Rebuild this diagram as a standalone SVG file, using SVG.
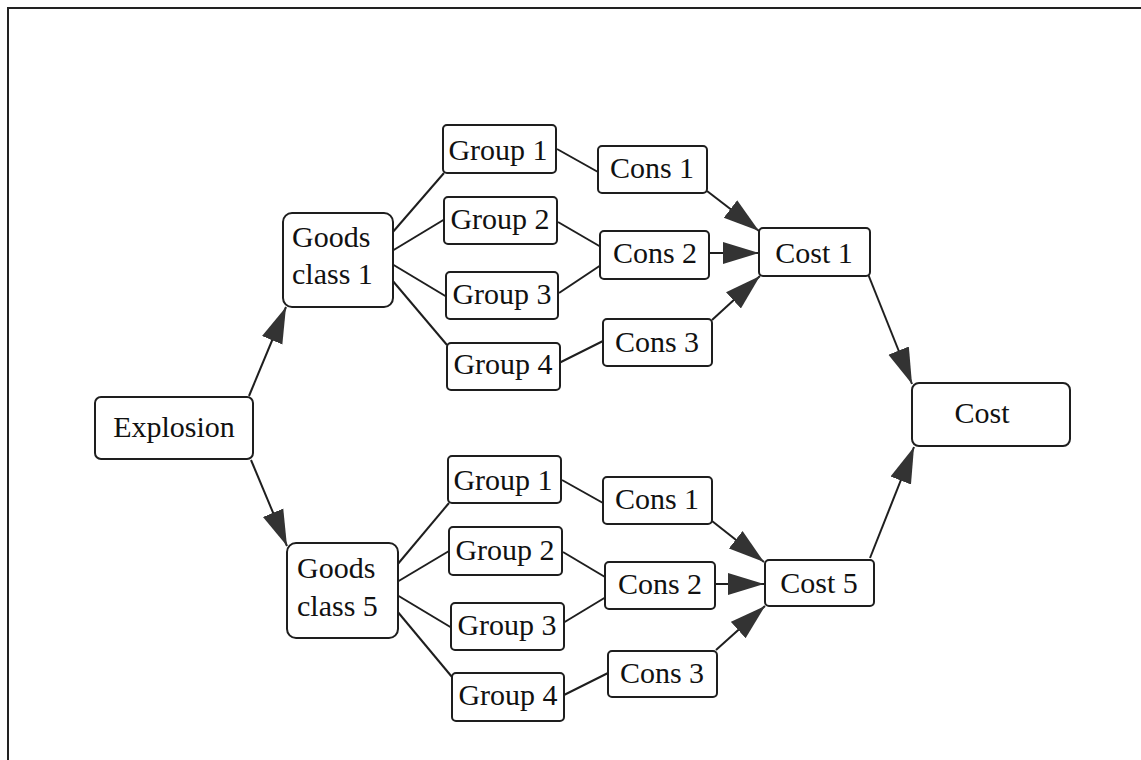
<svg xmlns="http://www.w3.org/2000/svg" width="1141" height="760" viewBox="0 0 1141 760">
<style>
.n rect{fill:#fff;stroke:#1e1e1e;stroke-width:2}
.n text{font-family:'Liberation Serif',serif;font-size:30px;fill:#111}
.c{text-anchor:middle}
#edges line{stroke:#1e1e1e;stroke-width:2}
#edges line.a{marker-end:url(#ah)}
</style>
<defs>
<marker id="ah" markerUnits="userSpaceOnUse" markerWidth="38" markerHeight="24" refX="36" refY="11" orient="auto" viewBox="0 0 38 22">
<path d="M0,0 L36,11 L0,22 Z" fill="#333"/>
</marker>
</defs>
<rect width="1141" height="760" fill="#fff"/>
<path d="M8,760 V8 H1141" fill="none" stroke="#222" stroke-width="2"/>
<g id="edges">
<line class="a" x1="249" y1="396" x2="286" y2="307"/>
<line class="a" x1="251" y1="460" x2="287" y2="546"/>
<line x1="392" y1="233" x2="444" y2="173"/>
<line x1="392" y1="251" x2="445" y2="219"/>
<line x1="392" y1="264" x2="447" y2="297"/>
<line x1="392" y1="280" x2="447" y2="345"/>
<line x1="557" y1="149" x2="598" y2="172"/>
<line x1="558" y1="222" x2="601" y2="247"/>
<line x1="559" y1="293" x2="601" y2="265"/>
<line x1="559" y1="363" x2="603" y2="341"/>
<line class="a" x1="707" y1="191" x2="759" y2="231"/>
<line class="a" x1="709" y1="253" x2="759" y2="253"/>
<line class="a" x1="712" y1="320" x2="760" y2="276"/>
<line class="a" x1="868" y1="274" x2="912" y2="384"/>
<line x1="397" y1="565" x2="449" y2="503"/>
<line x1="397" y1="582" x2="449" y2="551"/>
<line x1="397" y1="595" x2="452" y2="628"/>
<line x1="397" y1="611" x2="452" y2="677"/>
<line x1="562" y1="480" x2="603" y2="503"/>
<line x1="563" y1="552" x2="605" y2="577"/>
<line x1="563" y1="623" x2="606" y2="597"/>
<line x1="564" y1="695" x2="608" y2="673"/>
<line class="a" x1="712" y1="521" x2="764" y2="562"/>
<line class="a" x1="715" y1="584" x2="764" y2="584"/>
<line class="a" x1="716" y1="650" x2="765" y2="606"/>
<line class="a" x1="870" y1="558" x2="914" y2="447"/>
</g>
<g id="explosion" class="n"><rect x="95" y="397" width="158" height="62" rx="6"/><text class="c" x="174" y="437">Explosion</text></g>
<g id="goods1" class="n"><rect x="283" y="213" width="110" height="94" rx="9"/><text x="292" y="247">Goods</text><text x="292" y="284">class 1</text></g>
<g id="goods5" class="n"><rect x="287" y="543" width="111" height="95" rx="9"/><text x="297" y="578">Goods</text><text x="297" y="616">class 5</text></g>
<g id="g1a" class="n"><rect x="443" y="125" width="113" height="48" rx="4"/><text class="c" x="498" y="160">Group 1</text></g>
<g id="g2a" class="n"><rect x="444" y="197" width="113" height="47" rx="4"/><text class="c" x="500" y="229">Group 2</text></g>
<g id="g3a" class="n"><rect x="446" y="272" width="112" height="47" rx="4"/><text class="c" x="502" y="304">Group 3</text></g>
<g id="g4a" class="n"><rect x="447" y="343" width="113" height="47" rx="4"/><text class="c" x="503" y="374">Group 4</text></g>
<g id="c1a" class="n"><rect x="598" y="146" width="109" height="47" rx="4"/><text class="c" x="652" y="178">Cons 1</text></g>
<g id="c2a" class="n"><rect x="600" y="231" width="109" height="48" rx="4"/><text class="c" x="655" y="263">Cons 2</text></g>
<g id="c3a" class="n"><rect x="603" y="319" width="109" height="47" rx="4"/><text class="c" x="657" y="352">Cons 3</text></g>
<g id="cost1" class="n"><rect x="759" y="228" width="111" height="48" rx="4"/><text class="c" x="814" y="263">Cost 1</text></g>
<g id="g1b" class="n"><rect x="448" y="456" width="113" height="47" rx="4"/><text class="c" x="503" y="490">Group 1</text></g>
<g id="g2b" class="n"><rect x="449" y="527" width="113" height="48" rx="4"/><text class="c" x="505" y="560">Group 2</text></g>
<g id="g3b" class="n"><rect x="451" y="603" width="113" height="47" rx="4"/><text class="c" x="507" y="635">Group 3</text></g>
<g id="g4b" class="n"><rect x="452" y="673" width="112" height="48" rx="4"/><text class="c" x="508" y="705">Group 4</text></g>
<g id="c1b" class="n"><rect x="603" y="477" width="109" height="47" rx="4"/><text class="c" x="657" y="509">Cons 1</text></g>
<g id="c2b" class="n"><rect x="605" y="562" width="110" height="47" rx="4"/><text class="c" x="660" y="594">Cons 2</text></g>
<g id="c3b" class="n"><rect x="608" y="651" width="109" height="46" rx="4"/><text class="c" x="662" y="683">Cons 3</text></g>
<g id="cost5" class="n"><rect x="765" y="560" width="109" height="46" rx="4"/><text class="c" x="819" y="593">Cost 5</text></g>
<g id="cost" class="n"><rect x="912" y="383" width="158" height="63" rx="7"/><text class="c" x="982" y="423">Cost</text></g>
</svg>
